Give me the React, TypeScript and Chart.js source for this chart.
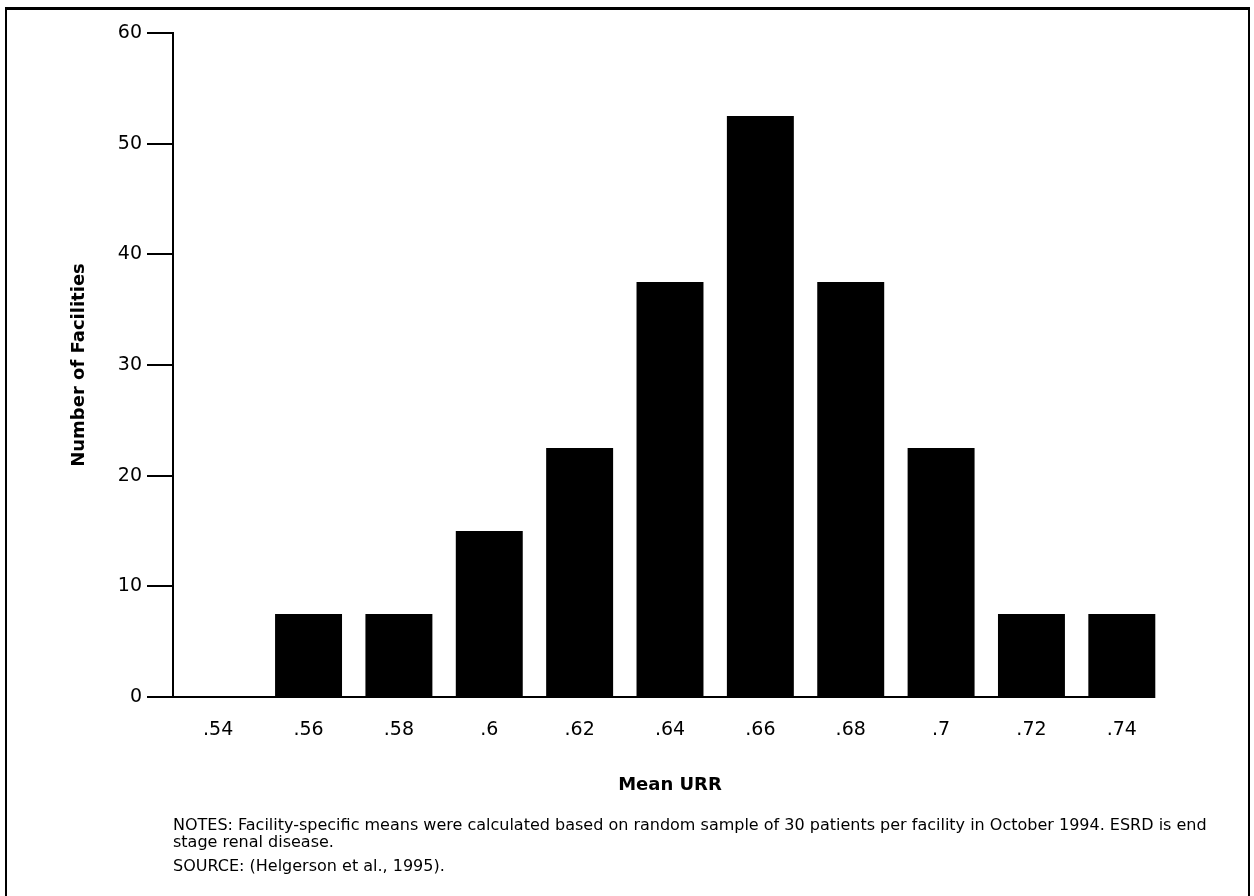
import React, { useEffect, useRef } from "react";
import { Chart, registerables } from "chart.js";

Chart.register(...registerables);

const categories = [".54", ".56", ".58", ".6", ".62", ".64", ".66", ".68", ".7", ".72", ".74"];
const facilityCounts = [0, 7.5, 7.5, 15, 22.5, 37.5, 52.5, 37.5, 22.5, 7.5, 7.5];
const yTickValues = [0, 10, 20, 30, 40, 50, 60];
const xTitle = "Mean URR";
const yTitle = "Number of Facilities";
const notesLines = [
  "NOTES: Facility-specific means were calculated based on random sample of 30 patients per facility in October 1994. ESRD is end",
  "stage renal disease.",
];
const sourceText = "SOURCE: (Helgerson et al., 1995).";

const FONT = "'DejaVu Sans', sans-serif";

const baselinePlugin = {
  id: "baselineAxis",
  afterDatasetsDraw(chart: any) {
    const { ctx, chartArea, scales } = chart;
    const meta = chart.getDatasetMeta(0);
    const last = meta.data[meta.data.length - 1];
    const right = last.x + last.width / 2;
    const y = scales.y.getPixelForValue(0);
    ctx.save();
    ctx.strokeStyle = "#000";
    ctx.lineWidth = 2;
    ctx.beginPath();
    ctx.moveTo(chartArea.left, y);
    ctx.lineTo(right, y);
    ctx.stroke();
    ctx.restore();
  },
};

function App() {
  const canvasRef = useRef<HTMLCanvasElement | null>(null);

  useEffect(() => {
    if (!canvasRef.current) return;
    const chart = new Chart(canvasRef.current, {
      type: "bar",
      data: {
        labels: categories,
        datasets: [
          {
            data: facilityCounts,
            backgroundColor: "#000",
            borderWidth: 0,
            barPercentage: 0.741,
            categoryPercentage: 1,
          },
        ],
      },
      options: {
        responsive: false,
        animation: false,
        events: [],
        layout: { padding: { top: 33, right: 87, bottom: 99, left: 0 } },
        plugins: { legend: { display: false }, tooltip: { enabled: false } },
        scales: {
          x: {
            type: "category",
            offset: true,
            grid: { display: false, drawTicks: false },
            border: { display: false },
            ticks: {
              color: "#000",
              font: { family: FONT, size: 19 },
              padding: 22,
              maxRotation: 0,
            },
            title: {
              display: true,
              text: xTitle,
              color: "#000",
              font: { family: FONT, size: 18, weight: "bold" },
              padding: { top: 0, bottom: 1 },
            },
            afterFit: (s: any) => {
              s.height = 100;
            },
          },
          y: {
            min: 0,
            max: 60,
            afterBuildTicks: (s: any) => {
              s.ticks = yTickValues.map((v) => ({ value: v }));
            },
            grid: {
              drawOnChartArea: false,
              drawTicks: true,
              tickLength: 26,
              color: "#000",
              lineWidth: 2,
            },
            border: { display: true, color: "#000", width: 2 },
            ticks: {
              color: "#000",
              font: { family: FONT, size: 19 },
              padding: 5,
            },
            title: {
              display: true,
              text: yTitle,
              color: "#000",
              font: { family: FONT, size: 18, weight: "bold" },
              padding: { top: 69, bottom: 0 },
            },
            afterFit: (s: any) => {
              s.width = 173;
            },
          },
        },
      },
      plugins: [baselinePlugin],
    });
    return () => chart.destroy();
  }, []);

  return (
    <div style={{ position: "absolute", left: 0, top: 0, width: 1254, height: 896, overflow: "hidden", background: "#fff" }}>
      <div
        style={{
          position: "absolute",
          left: 5,
          top: 7,
          width: 1241,
          height: 1000,
          borderTop: "3px solid #000",
          borderLeft: "2px solid #000",
          borderRight: "2px solid #000",
        }}
      />
      <canvas ref={canvasRef} width={1254} height={896} style={{ position: "absolute", left: 0, top: 0 }} />
      <div
        style={{
          position: "absolute",
          left: 173,
          top: 816,
          fontFamily: FONT,
          fontSize: 16,
          lineHeight: "17px",
          color: "#000",
          whiteSpace: "nowrap",
        }}
      >
        {notesLines.map((line, i) => (
          <div key={i}>{line}</div>
        ))}
        <div style={{ marginTop: 7 }}>{sourceText}</div>
      </div>
    </div>
  );
}

export default App;
